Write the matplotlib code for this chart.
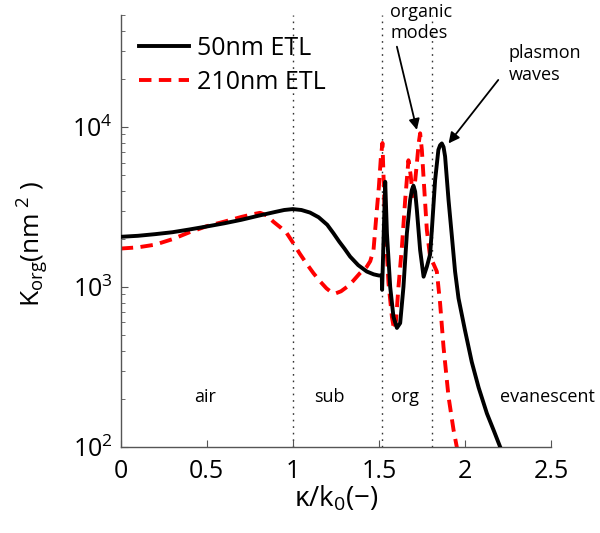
import numpy as np
import matplotlib
matplotlib.use("Agg")
import matplotlib.pyplot as plt

plt.rcParams['font.family'] = ['Open Sans', 'DejaVu Sans']
plt.rcParams['mathtext.fontset'] = 'custom'
plt.rcParams['mathtext.rm'] = 'Open Sans'
plt.rcParams['mathtext.it'] = 'Open Sans:italic'

# 50nm ETL curve (kappa/k0, K_org in nm^2)
x50 = [0.00, 0.10, 0.20, 0.30, 0.40, 0.50, 0.60, 0.70, 0.80, 0.90, 0.95, 1.00, 1.05, 1.10, 1.15,
       1.20, 1.236, 1.27, 1.30, 1.333, 1.38, 1.43, 1.47, 1.50, 1.517,
       1.519, 1.537, 1.547, 1.566, 1.585, 1.605, 1.624, 1.643, 1.663, 1.682, 1.692, 1.701, 1.711,
       1.721, 1.740, 1.760, 1.779, 1.798, 1.808, 1.827, 1.846, 1.856, 1.866, 1.876, 1.885, 1.905,
       1.924, 1.943, 1.963, 2.00, 2.04, 2.08, 2.128, 2.17, 2.205, 2.25]
k50 = [2060, 2090, 2140, 2200, 2290, 2390, 2500, 2630, 2790, 2950, 3030, 3070, 3030, 2920, 2730,
       2450, 2170, 1920, 1740, 1550, 1370, 1250, 1200, 1180, 1180,
       960, 4550, 2170, 1000, 650, 555, 595, 1000, 2170, 3500, 4050, 4300, 3950,
       3030, 1700, 1160, 1340, 1600, 2270, 4650, 7200, 7700, 7900, 7500, 6550, 3500,
       2100, 1250, 850, 540, 340, 235, 162, 125, 100, 80]

# 210nm ETL curve
x210 = [0.00, 0.10, 0.20, 0.30, 0.40, 0.50, 0.60, 0.70, 0.76, 0.81, 0.85, 0.887, 0.93, 0.965,
        1.00, 1.04, 1.08, 1.12, 1.16, 1.196, 1.22, 1.246, 1.28, 1.314, 1.35, 1.39,
        1.43, 1.45, 1.469, 1.488, 1.50, 1.512, 1.521, 1.527, 1.535, 1.556, 1.576, 1.589, 1.60,
        1.614, 1.634, 1.653, 1.672, 1.685, 1.697, 1.71, 1.721, 1.732, 1.74, 1.75, 1.76, 1.779,
        1.798, 1.817, 1.837, 1.856, 1.876, 1.905, 1.934, 1.953, 1.98]
k210 = [1740, 1770, 1840, 1990, 2200, 2400, 2560, 2740, 2840, 2910, 2800, 2560, 2350, 2170,
        1900, 1620, 1400, 1220, 1080, 980, 935, 910, 940, 1000, 1090, 1220,
        1340, 1450, 1700, 3000, 4200, 6500, 7950, 5000, 2800, 1060, 650, 540, 620,
        1000, 1780, 3500, 6200, 5000, 3700, 4500, 5940, 8000, 9140, 7200, 4800, 2270,
        1540, 1400, 1250, 790, 420, 206, 128, 100, 80]

boundaries = [1.0, 1.521, 1.808]
regions = ['air', 'sub', 'org', 'evanescent']
region_x = [0.49, 1.213, 1.653, 2.48]

fig = plt.figure(figsize=(6, 5.33), dpi=100)
ax = fig.add_axes([0.2012, 0.1614, 0.717, 0.810])

for b in boundaries:
    ax.plot([b, b], [100, 5e4], color='#333333', lw=1.0, ls=(0, (1.2, 3.5)), zorder=1)

ax.plot(x50, k50, color='k', lw=2.8, label='50nm ETL', zorder=3)
ax.plot(x210, k210, color='#ff0000', lw=2.8, ls=(0, (3.2, 1.9)), label='210nm ETL', zorder=2)

ax.set_yscale('log')
ax.set_xlim(0, 2.5)
ax.set_ylim(100, 5e4)
ax.set_xticks([0, 0.5, 1, 1.5, 2, 2.5])
ax.set_xticklabels(['0', '0.5', '1', '1.5', '2', '2.5'])

for s in ['top', 'right']:
    ax.spines[s].set_visible(False)
for s in ['left', 'bottom']:
    ax.spines[s].set_color('#555555')
    ax.spines[s].set_linewidth(1.0)
ax.tick_params(which='both', direction='in', color='#555555', labelsize=18)
ax.tick_params(which='major', length=5, pad=6)
ax.tick_params(which='minor', length=3)
ax.tick_params(axis='x', pad=9)

ax.set_xlabel('κ/k$_0$(−)', fontsize=20, labelpad=0)
ax.set_ylabel('K$_{\\mathrm{org}}$(nm$^{\\ 2}$ )', fontsize=19)
ax.yaxis.set_label_coords(-0.163, 0.47)

for name, xc in zip(regions, region_x):
    ax.text(xc, 206, name, fontsize=13, ha='center', va='center')

ax.text(1.567, 60000, 'organic\nmodes', fontsize=13, ha='left', va='top', linespacing=1.25)
ax.text(2.253, 33000, 'plasmon\nwaves', fontsize=13, ha='left', va='top', linespacing=1.25)

arrow = dict(arrowstyle='-|>', color='k', lw=1.3, mutation_scale=16, shrinkA=0, shrinkB=0)
ax.annotate('', xy=(1.721, 9600), xytext=(1.605, 31800), arrowprops=arrow)
ax.annotate('', xy=(1.905, 7900), xytext=(2.194, 19700), arrowprops=arrow)

ax.legend(loc='upper left', bbox_to_anchor=(0.02, 0.975), frameon=False, fontsize=18,
          handlelength=2.0, handletextpad=0.3, labelspacing=0.35, borderaxespad=0)

fig.savefig('out.png', dpi=100)
